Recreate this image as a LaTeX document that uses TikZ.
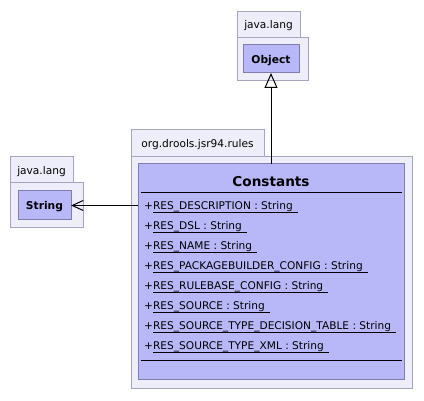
\documentclass[tikz,border=0pt]{standalone}
\usepackage{fontspec}
\setmainfont{DejaVu Sans}
\usetikzlibrary{arrows.meta}
\definecolor{pkgfill}{RGB}{238,238,250}
\definecolor{pkgline}{RGB}{165,165,190}
\definecolor{clsfill}{RGB}{184,184,248}
\definecolor{clsline}{RGB}{125,125,175}
\newsavebox{\ulbox}
\newcommand{\myul}[1]{\sbox{\ulbox}{#1\hspace{5pt}}\rlap{\rule[-2.6pt]{\wd\ulbox}{0.8pt}}\usebox{\ulbox}}
\begin{document}
\begin{tikzpicture}[x=1pt,y=-1pt,
  box/.style={anchor=north west, inner sep=0pt, outer sep=0pt, line width=1pt},
  pkgbox/.style={box, draw=pkgline, fill=pkgfill},
  clsbox/.style={box, draw=clsline, fill=clsfill},
  tabtext/.style={anchor=base, inner sep=0pt, font=\fontsize{10.6}{12}\selectfont},
  clsname/.style={anchor=base, inner sep=0pt, font=\fontsize{10.7}{12}\selectfont\bfseries},
  title/.style={anchor=base, inner sep=0pt, font=\fontsize{13.6}{16}\selectfont\bfseries},
  attr/.style={anchor=base west, inner sep=0pt, font=\fontsize{10.6}{12}\selectfont},
  sep/.style={line width=1pt, black},
  gen/.style={line width=1pt, -{Triangle[open, length=15pt, width=13pt, line width=1pt]}},
  dep/.style={line width=1pt, -{Straight Barb[length=11pt, width=10pt, line width=1pt]}}
]
\useasboundingbox[fill=white] (0,0) rectangle (424,401);

% java.lang (Object)
\node[pkgbox, minimum width=63pt, minimum height=26pt] (objtab) at (237,12) {};
\node[pkgbox, minimum width=71pt, minimum height=43pt] (objpkg) at (237,38) {};
\node[tabtext] (objtabtxt) at (268.5,29) {java.lang};
\node[clsbox, minimum width=56pt, minimum height=28pt] (object) at (243,45) {};
\node[clsname] (objname) at (271,63.5) {Object};

% java.lang (String)
\node[pkgbox, minimum width=63pt, minimum height=26pt] (strtab) at (10,157) {};
\node[pkgbox, minimum width=73pt, minimum height=45pt] (strpkg) at (10,183) {};
\node[tabtext] (strtabtxt) at (41.5,175) {java.lang};
\node[clsbox, minimum width=53pt, minimum height=29pt] (string) at (18,191) {};
\node[clsname] (strname) at (44.5,209.5) {String};

% org.drools.jsr94.rules
\node[pkgbox, minimum width=133pt, minimum height=27pt] (maintab) at (131,130) {};
\node[pkgbox, minimum width=281pt, minimum height=232pt] (mainpkg) at (131,157) {};
\node[tabtext] (maintabtxt) at (197.5,148) {org.drools.jsr94.rules};
\node[clsbox, minimum width=266pt, minimum height=216pt] (const) at (138,164) {};
\node[title] (consttitle) at (271,187) {Constants};

\coordinate (s1l) at (141,193); \coordinate (s1r) at (402,193);
\coordinate (s2l) at (141,361); \coordinate (s2r) at (402,361);
\draw[sep] (s1l) -- (s1r);
\draw[sep] (s2l) -- (s2r);

\node[attr] (a1) at (144,210) {+\myul{RES\_DESCRIPTION : String}};
\node[attr] (a2) at (144,230) {+\myul{RES\_DSL : String}};
\node[attr] (a3) at (144,250) {+\myul{RES\_NAME : String}};
\node[attr] (a4) at (144,270) {+\myul{RES\_PACKAGEBUILDER\_CONFIG : String}};
\node[attr] (a5) at (144,290) {+\myul{RES\_RULEBASE\_CONFIG : String}};
\node[attr] (a6) at (144,310) {+\myul{RES\_SOURCE : String}};
\node[attr] (a7) at (144,330) {+\myul{RES\_SOURCE\_TYPE\_DECISION\_TABLE : String}};
\node[attr] (a8) at (144,350) {+\myul{RES\_SOURCE\_TYPE\_XML : String}};

% connectors
\draw[gen] (const.north -| object.south) -- (object.south);
\draw[dep] (const.west |- string.east) -- (string.east);
\end{tikzpicture}
\end{document}
